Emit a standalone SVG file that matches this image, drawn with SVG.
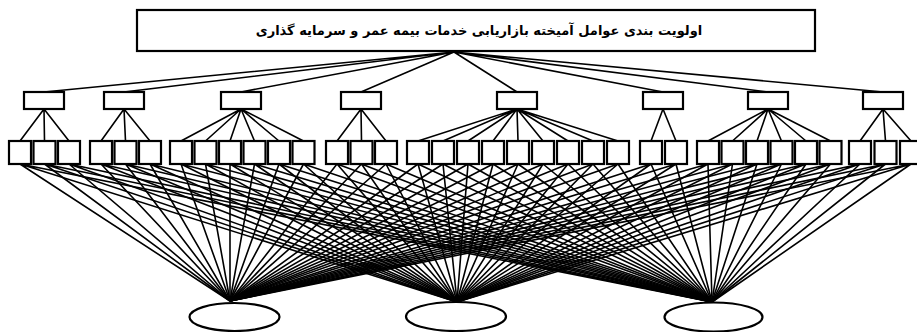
<svg xmlns="http://www.w3.org/2000/svg" width="917" height="332" viewBox="0 0 917 332">
<style>
.b{fill:#fff;stroke:#000;stroke-width:2.2}
.c path{fill:none;stroke:#000;stroke-width:1.6}
.t{font-family:"DejaVu Sans",sans-serif;font-weight:bold;font-size:13px;fill:#000}
</style>
<rect width="917" height="332" fill="#fff"/>
<g class="c" id="connectors">
<path d="M454 52L44 92M454 52L124 92M454 52L241 92M454 52L361 92M454 52L517 92M454 52L663 92M454 52L768 92M454 52L883 92"/>
<path d="M44 109L20 141M44 109L44.5 141M44 109L69 141"/>
<path d="M124 109L101 141M124 109L125.5 141M124 109L150 141"/>
<path d="M241 109L181 141M241 109L205.5 141M241 109L230 141M241 109L254.5 141M241 109L279 141M241 109L303.5 141"/>
<path d="M361 109L337 141M361 109L361.5 141M361 109L386 141"/>
<path d="M517 109L418 141M517 109L443 141M517 109L468 141M517 109L493 141M517 109L518 141M517 109L543 141M517 109L568 141M517 109L593 141M517 109L618 141"/>
<path d="M663 109L651 141M663 109L676 141"/>
<path d="M768 109L708 141M768 109L732.5 141M768 109L757 141M768 109L781.5 141M768 109L806 141M768 109L830.5 141"/>
<path d="M883 109L860 141M883 109L885.5 141M883 109L911 141"/>
<path d="M20 164L230 301M20 164L457 302M20 164L712 302"/>
<path d="M44.5 164L230 301M44.5 164L457 302M44.5 164L712 302"/>
<path d="M69 164L230 301M69 164L457 302M69 164L712 302"/>
<path d="M101 164L230 301M101 164L457 302M101 164L712 302"/>
<path d="M125.5 164L230 301M125.5 164L457 302M125.5 164L712 302"/>
<path d="M150 164L230 301M150 164L457 302M150 164L712 302"/>
<path d="M181 164L230 301M181 164L457 302M181 164L712 302"/>
<path d="M205.5 164L230 301M205.5 164L457 302M205.5 164L712 302"/>
<path d="M230 164L230 301M230 164L457 302M230 164L712 302"/>
<path d="M254.5 164L230 301M254.5 164L457 302M254.5 164L712 302"/>
<path d="M279 164L230 301M279 164L457 302M279 164L712 302"/>
<path d="M303.5 164L230 301M303.5 164L457 302M303.5 164L712 302"/>
<path d="M337 164L230 301M337 164L457 302M337 164L712 302"/>
<path d="M361.5 164L230 301M361.5 164L457 302M361.5 164L712 302"/>
<path d="M386 164L230 301M386 164L457 302M386 164L712 302"/>
<path d="M418 164L230 301M418 164L457 302M418 164L712 302"/>
<path d="M443 164L230 301M443 164L457 302M443 164L712 302"/>
<path d="M468 164L230 301M468 164L457 302M468 164L712 302"/>
<path d="M493 164L230 301M493 164L457 302M493 164L712 302"/>
<path d="M518 164L230 301M518 164L457 302M518 164L712 302"/>
<path d="M543 164L230 301M543 164L457 302M543 164L712 302"/>
<path d="M568 164L230 301M568 164L457 302M568 164L712 302"/>
<path d="M593 164L230 301M593 164L457 302M593 164L712 302"/>
<path d="M618 164L230 301M618 164L457 302M618 164L712 302"/>
<path d="M651 164L230 301M651 164L457 302M651 164L712 302"/>
<path d="M676 164L230 301M676 164L457 302M676 164L712 302"/>
<path d="M708 164L230 301M708 164L457 302M708 164L712 302"/>
<path d="M732.5 164L230 301M732.5 164L457 302M732.5 164L712 302"/>
<path d="M757 164L230 301M757 164L457 302M757 164L712 302"/>
<path d="M781.5 164L230 301M781.5 164L457 302M781.5 164L712 302"/>
<path d="M806 164L230 301M806 164L457 302M806 164L712 302"/>
<path d="M830.5 164L230 301M830.5 164L457 302M830.5 164L712 302"/>
<path d="M860 164L230 301M860 164L457 302M860 164L712 302"/>
<path d="M885.5 164L230 301M885.5 164L457 302M885.5 164L712 302"/>
<path d="M911 164L230 301M911 164L457 302M911 164L712 302"/>
</g>
<g id="goal"><rect class="b" x="137" y="10" width="678" height="41"/><text class="t" x="479" y="35" text-anchor="middle" direction="rtl">اولویت بندی عوامل آمیخته بازاریابی خدمات بیمه عمر و سرمایه گذاری</text></g>
<g id="c1"><rect class="b" x="24" y="92" width="40" height="17"/></g>
<g id="c2"><rect class="b" x="104" y="92" width="40" height="17"/></g>
<g id="c3"><rect class="b" x="221" y="92" width="40" height="17"/></g>
<g id="c4"><rect class="b" x="341" y="92" width="40" height="17"/></g>
<g id="c5"><rect class="b" x="497" y="92" width="40" height="17"/></g>
<g id="c6"><rect class="b" x="643" y="92" width="40" height="17"/></g>
<g id="c7"><rect class="b" x="748" y="92" width="40" height="17"/></g>
<g id="c8"><rect class="b" x="863" y="92" width="40" height="17"/></g>
<g id="s1"><rect class="b" x="9" y="141" width="22" height="23"/></g>
<g id="s2"><rect class="b" x="33.5" y="141" width="22" height="23"/></g>
<g id="s3"><rect class="b" x="58" y="141" width="22" height="23"/></g>
<g id="s4"><rect class="b" x="90" y="141" width="22" height="23"/></g>
<g id="s5"><rect class="b" x="114.5" y="141" width="22" height="23"/></g>
<g id="s6"><rect class="b" x="139" y="141" width="22" height="23"/></g>
<g id="s7"><rect class="b" x="170" y="141" width="22" height="23"/></g>
<g id="s8"><rect class="b" x="194.5" y="141" width="22" height="23"/></g>
<g id="s9"><rect class="b" x="219" y="141" width="22" height="23"/></g>
<g id="s10"><rect class="b" x="243.5" y="141" width="22" height="23"/></g>
<g id="s11"><rect class="b" x="268" y="141" width="22" height="23"/></g>
<g id="s12"><rect class="b" x="292.5" y="141" width="22" height="23"/></g>
<g id="s13"><rect class="b" x="326" y="141" width="22" height="23"/></g>
<g id="s14"><rect class="b" x="350.5" y="141" width="22" height="23"/></g>
<g id="s15"><rect class="b" x="375" y="141" width="22" height="23"/></g>
<g id="s16"><rect class="b" x="407" y="141" width="22" height="23"/></g>
<g id="s17"><rect class="b" x="432" y="141" width="22" height="23"/></g>
<g id="s18"><rect class="b" x="457" y="141" width="22" height="23"/></g>
<g id="s19"><rect class="b" x="482" y="141" width="22" height="23"/></g>
<g id="s20"><rect class="b" x="507" y="141" width="22" height="23"/></g>
<g id="s21"><rect class="b" x="532" y="141" width="22" height="23"/></g>
<g id="s22"><rect class="b" x="557" y="141" width="22" height="23"/></g>
<g id="s23"><rect class="b" x="582" y="141" width="22" height="23"/></g>
<g id="s24"><rect class="b" x="607" y="141" width="22" height="23"/></g>
<g id="s25"><rect class="b" x="640" y="141" width="22" height="23"/></g>
<g id="s26"><rect class="b" x="665" y="141" width="22" height="23"/></g>
<g id="s27"><rect class="b" x="697" y="141" width="22" height="23"/></g>
<g id="s28"><rect class="b" x="721.5" y="141" width="22" height="23"/></g>
<g id="s29"><rect class="b" x="746" y="141" width="22" height="23"/></g>
<g id="s30"><rect class="b" x="770.5" y="141" width="22" height="23"/></g>
<g id="s31"><rect class="b" x="795" y="141" width="22" height="23"/></g>
<g id="s32"><rect class="b" x="819.5" y="141" width="22" height="23"/></g>
<g id="s33"><rect class="b" x="849" y="141" width="22" height="23"/></g>
<g id="s34"><rect class="b" x="874.5" y="141" width="22" height="23"/></g>
<g id="s35"><rect class="b" x="900" y="141" width="22" height="23"/></g>
<g id="a1"><ellipse class="b" cx="234.5" cy="317" rx="45" ry="14"/></g>
<g id="a2"><ellipse class="b" cx="456" cy="316.5" rx="50" ry="14.5"/></g>
<g id="a3"><ellipse class="b" cx="713.5" cy="317" rx="49" ry="14.5"/></g>
</svg>
